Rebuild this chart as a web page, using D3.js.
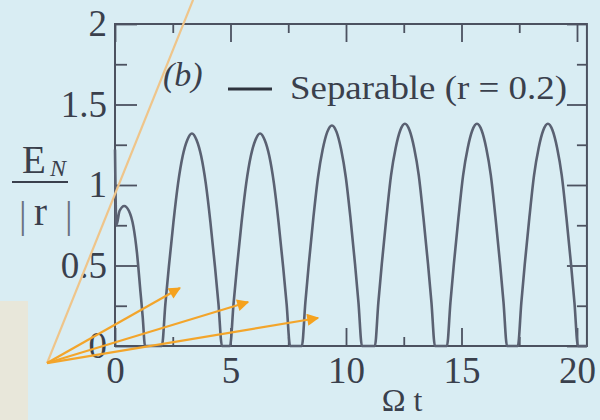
<html>
<head>
<meta charset="utf-8">
<script src="https://d3js.org/d3.v7.min.js"></script>
<style>
  body { margin: 0; background: #d9edf3; }
  svg { display: block; }
  svg text { font-family: "Liberation Serif", "Times New Roman", Times, serif; }
</style>
</head>
<body>
<svg width="600" height="420"></svg>
<script>
// values
var omegaT = [
  0.00, 0.06, 0.20, 0.40, 0.60, 0.80, 0.95, 1.10, 1.20, 1.30,
  2.03, 2.18, 2.33, 2.53, 2.73, 2.93, 3.13, 3.33, 3.53, 3.73, 3.93, 4.13, 4.33, 4.48, 4.63,
  4.98, 5.13, 5.28, 5.48, 5.68, 5.88, 6.08, 6.28, 6.48, 6.68, 6.88, 7.08, 7.28, 7.43, 7.58,
  8.09, 8.24, 8.39, 8.59, 8.79, 8.99, 9.19, 9.39, 9.59, 9.79, 9.99, 10.19, 10.39, 10.54, 10.69,
  11.25, 11.40, 11.55, 11.75, 11.95, 12.15, 12.35, 12.55, 12.75, 12.95, 13.15, 13.35, 13.55, 13.70, 13.85,
  14.37, 14.52, 14.67, 14.87, 15.07, 15.27, 15.47, 15.67, 15.87, 16.07, 16.27, 16.47, 16.67, 16.82, 16.97,
  17.44, 17.59, 17.74, 17.94, 18.14, 18.34, 18.54, 18.74, 18.94, 19.14, 19.34, 19.54, 19.74, 19.89, 20.04,
  20.43
];
var enRatio = [
  1.22, 0.75, 0.84, 0.87, 0.84, 0.74, 0.58, 0.34, 0.18, 0.00,
  0.00, 0.26, 0.49, 0.77, 1.01, 1.18, 1.28, 1.32, 1.28, 1.18, 1.01, 0.77, 0.49, 0.26, 0.00,
  0.00, 0.26, 0.49, 0.77, 1.01, 1.18, 1.28, 1.32, 1.28, 1.18, 1.01, 0.77, 0.49, 0.26, 0.00,
  0.00, 0.27, 0.51, 0.80, 1.05, 1.22, 1.33, 1.37, 1.33, 1.22, 1.05, 0.80, 0.51, 0.27, 0.00,
  0.00, 0.27, 0.51, 0.80, 1.06, 1.23, 1.34, 1.38, 1.34, 1.23, 1.06, 0.80, 0.51, 0.27, 0.00,
  0.00, 0.27, 0.51, 0.80, 1.06, 1.23, 1.34, 1.38, 1.34, 1.23, 1.06, 0.80, 0.51, 0.27, 0.00,
  0.00, 0.27, 0.51, 0.80, 1.06, 1.23, 1.34, 1.38, 1.34, 1.23, 1.06, 0.80, 0.51, 0.27, 0.00,
  0.00
];
var xTicks = [0, 5, 10, 15, 20];
var xMinor = [2.5, 7.5, 12.5, 17.5];
var yTicks = [0, 0.5, 1, 1.5, 2];
var yMinor = [0.25, 0.75, 1.25, 1.75];
var legendLabel = "Separable (r = 0.2)";

// orange pointers drawn on the slide, in data units
var arrowFrom = [-2.94, -0.106];
var arrowToT = [2.81, 5.76, 8.79];
var arrowToE = [0.36, 0.273, 0.174];
var longLineTo = [3.38, 2.15];

var svg = d3.select("svg");
var x = d3.scaleLinear().domain([0, 20]).range([115, 577]);
var y = d3.scaleLinear().domain([0, 2]).range([346, 24]);
var xEnd = 20.43;
var ink = "#3a404c";

svg.append("rect").attr("width", 600).attr("height", 420).attr("fill", "#d9edf3");
// beige patch on the left of the slide
svg.append("rect").attr("x", 0).attr("y", 301).attr("width", 28).attr("height", 119).attr("fill", "#e8e7da");

// frame
svg.append("rect")
  .attr("x", x(0)).attr("y", y(2))
  .attr("width", x(xEnd) - x(0)).attr("height", y(0) - y(2))
  .attr("fill", "none").attr("stroke", "#4c5260").attr("stroke-width", 2);

function styleAxis(g) {
  g.select(".domain").remove();
  g.attr("font-family", null);
  g.selectAll("line").attr("stroke", "#4c5260").attr("stroke-width", 1.8);
  g.selectAll("text").attr("fill", ink).attr("font-size", 37);
}

svg.append("g").attr("transform", "translate(0," + y(0) + ")")
  .call(d3.axisBottom(x).tickValues(xTicks).tickSize(-18).tickPadding(11).tickFormat(d3.format("d")))
  .call(styleAxis);
svg.append("g").attr("transform", "translate(0," + y(0) + ")")
  .call(d3.axisBottom(x).tickValues(xMinor).tickSize(-9).tickFormat(""))
  .call(styleAxis);
svg.append("g").attr("transform", "translate(0," + y(2) + ")")
  .call(d3.axisTop(x).tickValues(xTicks).tickSize(-18).tickFormat(""))
  .call(styleAxis);
svg.append("g").attr("transform", "translate(0," + y(2) + ")")
  .call(d3.axisTop(x).tickValues(xMinor).tickSize(-9).tickFormat(""))
  .call(styleAxis);

svg.append("g").attr("transform", "translate(" + x(0) + ",0)")
  .call(d3.axisLeft(y).tickValues(yTicks).tickSize(-22).tickPadding(8).tickFormat(d3.format("")))
  .call(styleAxis);
svg.append("g").attr("transform", "translate(" + x(0) + ",0)")
  .call(d3.axisLeft(y).tickValues(yMinor).tickSize(-12).tickFormat(""))
  .call(styleAxis);
svg.append("g").attr("transform", "translate(" + x(xEnd) + ",0)")
  .call(d3.axisRight(y).tickValues(yTicks).tickSize(-20).tickFormat(""))
  .call(styleAxis);
svg.append("g").attr("transform", "translate(" + x(xEnd) + ",0)")
  .call(d3.axisRight(y).tickValues(yMinor).tickSize(-10).tickFormat(""))
  .call(styleAxis);

// the curve
var pts = omegaT.map(function(t, i) { return [t, enRatio[i]]; });
svg.append("path")
  .datum(pts)
  .attr("fill", "none")
  .attr("stroke", "#5a6172")
  .attr("stroke-width", 2.6)
  .attr("d", d3.line().x(function(d) { return x(d[0]); }).y(function(d) { return y(d[1]); }).curve(d3.curveMonotoneX));

// panel tag and legend
svg.append("text").attr("x", 163).attr("y", 86)
  .attr("font-style", "italic").attr("font-size", 34)
  .attr("fill", ink).text("(b)");
svg.append("line").attr("x1", 228).attr("x2", 272).attr("y1", 89).attr("y2", 89)
  .attr("stroke", "#2e333d").attr("stroke-width", 3);
svg.append("text").attr("x", 290).attr("y", 99)
  .attr("font-size", 33)
  .attr("textLength", 277).attr("lengthAdjust", "spacingAndGlyphs")
  .attr("fill", ink).text(legendLabel);

// y label: E_N over |r|
svg.append("text").attr("x", 22).attr("y", 173)
  .attr("font-size", 39).attr("fill", ink).text("E");
svg.append("text").attr("x", 50).attr("y", 176)
  .attr("font-style", "italic").attr("font-size", 24).attr("fill", ink).text("N");
svg.append("line").attr("x1", 12).attr("x2", 68).attr("y1", 182).attr("y2", 182)
  .attr("stroke", ink).attr("stroke-width", 2);
svg.append("text").attr("x", 19).attr("y", 228)
  .attr("font-size", 38).attr("fill", "#6a7282").text("|");
svg.append("text").attr("x", 34).attr("y", 225)
  .attr("font-size", 39).attr("fill", ink).text("r");
svg.append("text").attr("x", 65).attr("y", 228)
  .attr("font-size", 38).attr("fill", "#6a7282").text("|");

// x label
svg.append("text").attr("x", 402).attr("y", 411).attr("text-anchor", "middle")
  .attr("font-size", 32).attr("fill", ink).text("Ω t");

// orange pointers
var defs = svg.append("defs");
defs.append("marker").attr("id", "head")
  .attr("markerUnits", "userSpaceOnUse")
  .attr("viewBox", "0 0 10 10").attr("refX", 9).attr("refY", 5)
  .attr("markerWidth", 16).attr("markerHeight", 12).attr("orient", "auto")
  .append("path").attr("d", "M0,0 L10,5 L0,10 Z").attr("fill", "#f5a21e");

svg.append("line")
  .attr("x1", x(arrowFrom[0])).attr("y1", y(arrowFrom[1]))
  .attr("x2", x(longLineTo[0])).attr("y2", y(longLineTo[1]))
  .attr("stroke", "#efc58a").attr("stroke-width", 2.2);

svg.selectAll(".arrow").data(arrowToT).enter().append("line")
  .attr("class", "arrow")
  .attr("x1", x(arrowFrom[0])).attr("y1", y(arrowFrom[1]))
  .attr("x2", function(d) { return x(d); })
  .attr("y2", function(d, i) { return y(arrowToE[i]); })
  .attr("stroke", "#f3a52b").attr("stroke-width", 2.2)
  .attr("marker-end", "url(#head)");
</script>
</body>
</html>
